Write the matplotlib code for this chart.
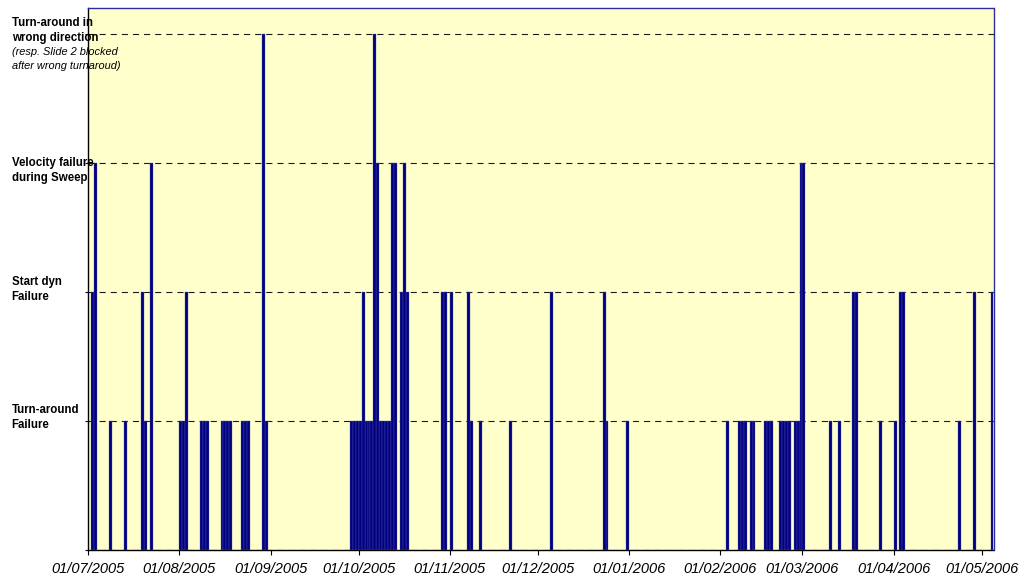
import matplotlib
matplotlib.use("Agg")
import matplotlib.pyplot as plt
import matplotlib.dates as mdates
from datetime import datetime

# ---- data -------------------------------------------------------------
level_names = {
    1: ["Turn-around", "Failure"],
    2: ["Start dyn", "Failure"],
    3: ["Velocity failure", "during Sweep"],
    4: ["Turn-around in", "wrong direction"],
}
level4_note = ["(resp. Slide 2 blocked", "after wrong turnaroud)"]

level1_dates = [
    "2005-07-08", "2005-07-13", "2005-07-20", "2005-08-01", "2005-08-02",
    "2005-08-08", "2005-08-09", "2005-08-10",
    "2005-08-15", "2005-08-16", "2005-08-17", "2005-08-18",
    "2005-08-22", "2005-08-23", "2005-08-24", "2005-08-30",
    "2005-09-28", "2005-09-29", "2005-09-30", "2005-10-01", "2005-10-03",
    "2005-10-04", "2005-10-05", "2005-10-08", "2005-10-09", "2005-10-10",
    "2005-10-11",
    "2005-11-08", "2005-11-11", "2005-11-21", "2005-12-24", "2005-12-31",
    "2006-02-03", "2006-02-07", "2006-02-08", "2006-02-09",
    "2006-02-11", "2006-02-12", "2006-02-16", "2006-02-17", "2006-02-18",
    "2006-02-21", "2006-02-22", "2006-02-23", "2006-02-24",
    "2006-02-26", "2006-02-27",
    "2006-03-10", "2006-03-13", "2006-03-27", "2006-04-01", "2006-04-23",
]
level2_dates = [
    "2005-07-02", "2005-07-19", "2005-08-03", "2005-10-02", "2005-10-15",
    "2005-10-17", "2005-10-29", "2005-10-30", "2005-11-01", "2005-11-07",
    "2005-12-05", "2005-12-23", "2006-03-18", "2006-03-19",
    "2006-04-03", "2006-04-04", "2006-04-28", "2006-05-04",
]
level3_dates = [
    "2005-07-03", "2005-07-22", "2005-10-07", "2005-10-12", "2005-10-13",
    "2005-10-16", "2006-02-28", "2006-03-01",
]
level4_dates = ["2005-08-29", "2005-10-06"]

tick_months = ["2005-07-01", "2005-08-01", "2005-09-01", "2005-10-01",
               "2005-11-01", "2005-12-01", "2006-01-01", "2006-02-01",
               "2006-03-01", "2006-04-01", "2006-05-01"]
x_start, x_end = "2005-07-01", "2006-05-05"

# ---- figure -----------------------------------------------------------
W, H = 1021, 579
fig = plt.figure(figsize=(W / 100, H / 100), dpi=100)
ax_l, ax_r, ax_t, ax_b = 88.3, 993.5, 8.3, 550
ax = fig.add_axes([ax_l / W, (H - ax_b) / H, (ax_r - ax_l) / W, (ax_b - ax_t) / H])
ax.set_facecolor("#FFFFCC")

def to_dt(lst):
    return [datetime.strptime(s, "%Y-%m-%d") for s in lst]

for lvl, dates in [(1, level1_dates), (2, level2_dates), (3, level3_dates), (4, level4_dates)]:
    d = to_dt(dates)
    ax.bar(d, [lvl] * len(d), width=1.0, align="edge", color="#000080",
           edgecolor="#5a5aae", linewidth=0.25, zorder=3)

ax.set_xlim(to_dt([x_start])[0], to_dt([x_end])[0])
ax.set_ylim(0, 4.2)
ax.set_yticks([0, 1, 2, 3, 4])
ax.set_yticklabels([])
ax.yaxis.grid(True, color="#1a1a1a", linewidth=0.8, linestyle=(0, (5.5, 4.5)), zorder=1)
ax.set_axisbelow(True)

ax.set_xticks(to_dt(tick_months))
ax.xaxis.set_major_formatter(mdates.DateFormatter("%d/%m/%Y"))
ax.tick_params(axis="x", direction="out", length=3.6, width=0.8, pad=5,
               labelsize=10.5, colors="#000000")
ax.tick_params(axis="y", direction="out", length=2.2, width=0.8)
for lab in ax.get_xticklabels():
    lab.set_family(["Liberation Sans", "DejaVu Sans"])
    lab.set_fontstyle("italic")

for s in ["left", "bottom"]:
    ax.spines[s].set_color("#000000")
    ax.spines[s].set_linewidth(1.0)
for s in ["top", "right"]:
    ax.spines[s].set_color("#2c2c9c")
    ax.spines[s].set_linewidth(1.0)

# ---- category labels ---------------------------------------------------
font = ["Liberation Sans", "DejaVu Sans"]
dx = 11.7 - ax_l  # pixels from axis to label left edge
offsets = {1: [8.4, -6.6], 2: [7.3, -7.7], 3: [-2.7, -17.7], 4: [7.6, -7.4]}
for lvl, lines in level_names.items():
    for line, dy in zip(lines, offsets[lvl]):
        ax.annotate(line, xy=(0, lvl), xycoords=ax.get_yaxis_transform(),
                    xytext=(dx, dy), textcoords="offset pixels",
                    ha="left", va="baseline", fontsize=8.3, fontweight="bold",
                    family=font, annotation_clip=False, zorder=5)
for line, dy in zip(level4_note, [-21.4, -34.7]):
    ax.annotate(line, xy=(0, 4), xycoords=ax.get_yaxis_transform(),
                xytext=(dx, dy), textcoords="offset pixels",
                ha="left", va="baseline", fontsize=7.9, fontstyle="italic",
                family=font, annotation_clip=False, zorder=5)

fig.savefig("out.png", dpi=100, facecolor="white")
